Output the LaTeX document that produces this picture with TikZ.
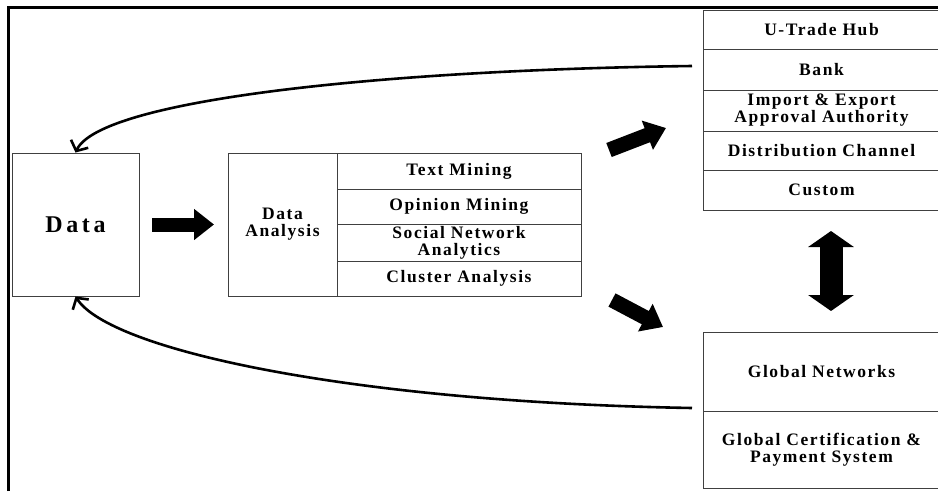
\documentclass[tikz,border=0pt]{standalone}
\usepackage{fontspec}
\setmainfont{Liberation Serif}
\usetikzlibrary{arrows.meta}
\tikzset{
  cell/.style={draw=black!75, line width=0.9pt, inner sep=0pt, align=center,
    font=\fontsize{17.5}{17}\selectfont\bfseries\addfontfeature{LetterSpace=9}},
  fat/.style={line width=#1, -{Triangle[length=20pt,width=30pt]}},
  fatboth/.style={line width=23pt, {Triangle[length=16pt,width=45pt]}-{Triangle[length=16pt,width=45pt]}},
  loop/.style={line width=2.6pt, -{Straight Barb[length=8pt,width=19pt,line width=2.6pt]}},
  frame/.style={line width=3pt}
}
\begin{document}
\begin{tikzpicture}[x=1pt,y=-1pt]
\useasboundingbox (0,0) rectangle (938,491);
% frame
\coordinate (fb) at (8.5,491);
\coordinate (fc) at (8.5,7.5);
\coordinate (fr) at (940,7.5);
\draw[frame] (fb) -- (fc) -- (fr);
% Data
\node[cell, minimum width=127pt, minimum height=143pt,
  font=\fontsize{24}{26}\selectfont\bfseries\addfontfeature{LetterSpace=15}] (data) at (75.5,224.5) {Data};
% Data analysis
\node[cell, minimum width=109pt, minimum height=143pt] (da) at (282.5,224.5) {Data\\Analysis};
\node[cell, minimum width=244pt, minimum height=36pt] (tm) at (459,171) {Text Mining};
\node[cell, minimum width=244pt, minimum height=35pt] (om) at (459,206.5) {Opinion Mining};
\node[cell, minimum width=244pt, minimum height=37pt] (sna) at (459,242.5) {Social Network\\Analytics};
\node[cell, minimum width=244pt, minimum height=35pt] (ca) at (459,278.5) {Cluster Analysis};
% right top
\node[cell, minimum width=237pt, minimum height=39pt] (hub) at (821.5,29.5) {U-Trade Hub};
\node[cell, minimum width=237pt, minimum height=41pt] (bank) at (821.5,69.5) {Bank};
\node[cell, minimum width=237pt, minimum height=41pt] (iea) at (821.5,110.5) {Import \& Export\\Approval Authority};
\node[cell, minimum width=237pt, minimum height=39pt] (dc) at (821.5,150.5) {Distribution Channel};
\node[cell, minimum width=237pt, minimum height=40pt] (cus) at (821.5,190) {Custom};
% right bottom
\node[cell, minimum width=237pt, minimum height=79pt] (gn) at (821.5,371.5) {Global Networks};
\node[cell, minimum width=237pt, minimum height=77pt] (gc) at (821.5,449.5) {Global Certification \&\\Payment System};
% fat arrows
\coordinate (a1s) at (152,224.5);
\coordinate (a1e) at (214,224.5);
\draw[fat=14pt] (a1s) -- (a1e);
\coordinate (a2s) at (609,150);
\coordinate (a2e) at (666,128);
\draw[fat=15pt] (a2s) -- (a2e);
\coordinate (a3s) at (612,300);
\coordinate (a3e) at (663,327);
\draw[fat=15pt] (a3s) -- (a3e);
\coordinate (a4s) at (831,231);
\coordinate (a4e) at (831,311);
\draw[fatboth] (a4s) -- (a4e);
% loops
\coordinate (l1) at (692,66);
\coordinate (l2) at (692,408);
\draw[loop] (l1) .. controls (380,70) and (100,100) .. (data.north);
\draw[loop] (l2) .. controls (350,402) and (110,350) .. (data.south);
\end{tikzpicture}
\end{document}
